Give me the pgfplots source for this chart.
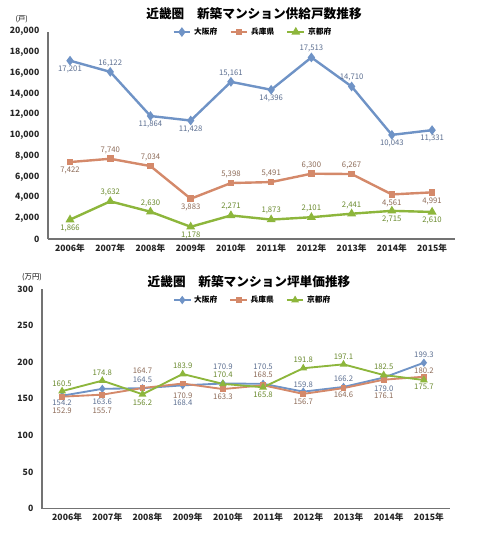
\documentclass[border=0pt]{standalone}
\usepackage{fontspec}
\setmainfont{Noto Sans CJK JP}
\usepackage{pgfplots}
\usepackage{pgfplotstable}
\pgfplotsset{compat=1.18}

\definecolor{osaka}{HTML}{6F93C6}
\definecolor{hyogo}{HTML}{D4896A}
\definecolor{kyoto}{HTML}{8DB63C}
\definecolor{osakalab}{HTML}{5B6E90}
\definecolor{hyogolab}{HTML}{8C6A57}
\definecolor{kyotolab}{HTML}{6A8A2E}

\pgfplotstableread{
x y lab dy
0 17201 17,201 -6.5
1 16122 16,122 6.5
2 11864 11,864 -6.5
3 11428 11,428 -6.5
4 15161 15,161 6.5
5 14396 14,396 -6.5
6 17513 17,513 6.5
7 14710 14,710 6.5
8 10043 10,043 -6.5
9 10500 11,331 -6.5
}\osakaA
\pgfplotstableread{
x y lab dy
0 7422 7,422 -6.5
1 7740 7,740 6.5
2 7034 7,034 6.5
3 3883 3,883 -6.5
4 5398 5,398 6.5
5 5491 5,491 6.5
6 6300 6,300 6.5
7 6267 6,267 6.5
8 4300 4,561 -6.5
9 4500 4,991 -6.5
}\hyogoA
\pgfplotstableread{
x y lab dy
0 1866 1,866 -6.5
1 3632 3,632 6.5
2 2630 2,630 6.5
3 1178 1,178 -6.5
4 2271 2,271 6.5
5 1873 1,873 6.5
6 2101 2,101 6.5
7 2441 2,441 6.5
8 2715 2,715 -6.5
9 2610 2,610 -6.5
}\kyotoA

\pgfplotstableread{
x y lab dy
0 154.2 154.2 -5.25
1 163.6 163.6 -9.75
2 164.5 164.5 6
3 168.4 168.4 -12.75
4 170.9 170.9 12.75
5 170.5 170.5 12.75
6 159.8 159.8 5.25
7 166.2 166.2 6
8 179.0 179.0 -8.25
9 199.3 199.3 6
}\osakaB
\pgfplotstableread{
x y lab dy
0 152.9 152.9 -10.5
1 155.7 155.7 -12
2 164.7 164.7 12.75
3 170.9 170.9 -9
4 163.3 163.3 -6
5 168.5 168.5 8.25
6 156.7 156.7 -6
7 164.6 164.6 -5.25
8 176.1 176.1 -12
9 180.2 180.2 4.5
}\hyogoB
\pgfplotstableread{
x y lab dy
0 160.5 160.5 5.25
1 174.8 174.8 6
2 156.2 156.2 -6
3 183.9 183.9 6
4 170.4 170.4 6.75
5 165.8 165.8 -5.25
6 191.8 191.8 6
7 197.1 197.1 6
8 182.5 182.5 6
9 175.7 175.7 -5.25
}\kyotoB

\pgfplotsset{mychart/.style={
  scale only axis,
  axis x line*=bottom, axis y line*=left,
  axis line style={draw=black!55, line width=1.2pt, -},
  tick style={draw=none},
  xtick={0,...,9},
  xticklabels={2006年,2007年,2008年,2009年,2010年,2011年,2012年,2013年,2014年,2015年},
  ticklabel style={font=\bfseries\fontsize{6.5}{7}\selectfont, text=black!85},
  /pgf/number format/assume math mode=true,
  /pgf/number format/1000 sep={,},
  scaled y ticks=false,
  yticklabel style={xshift=-3pt},
  clip=false,
  legend columns=3,
  legend cell align=left,
  legend style={draw=none, fill=none, font=\bfseries\fontsize{5.8}{6}\selectfont,
    /tikz/every even column/.append style={column sep=7pt}},
  legend image code/.code={\draw[mark repeat=2,mark phase=2,##1] plot coordinates {(0cm,0cm) (0.22cm,0cm) (0.44cm,0cm)};},
},
lbl/.style={
  nodes near coords,
  point meta=explicit symbolic,
  visualization depends on={\thisrow{dy} \as \dy},
  every node near coord/.append style={anchor=center, yshift=\dy pt, font=\fontsize{5.8}{6}\selectfont, inner sep=0pt, text=#1},
}}

\begin{document}
\begin{tikzpicture}
\path[use as bounding box] (0pt,0pt) rectangle (360pt,-400.5pt);

\node[font=\bfseries\fontsize{9.5}{10}\selectfont] at (190.5pt,-10.5pt) {近畿圏　新築マンション供給戸数推移};
\node[font=\fontsize{5.5}{6}\selectfont] at (16.3pt,-14.25pt) {(戸)};

\begin{axis}[mychart,
  at={(36pt,-179.25pt)}, anchor=south west,
  width=305.25pt, height=155.5pt,
  xmin=-0.547, xmax=9.57,
  ymin=0, ymax=20000, ytick={0,2000,...,20000},
  legend style={at={(0.504,0.998)}, anchor=center},
]
\addplot[color=osaka, line width=1.8pt, mark=diamond*, mark size=2.2pt, mark options={solid},
  lbl=osakalab] table[x=x,y=y,meta=lab] {\osakaA};
\addlegendentry{大阪府}
\addplot[color=hyogo, line width=1.8pt, mark=square*, mark size=1.6pt, mark options={solid},
  lbl=hyogolab] table[x=x,y=y,meta=lab] {\hyogoA};
\addlegendentry{兵庫県}
\addplot[color=kyoto, line width=1.8pt, mark=triangle*, mark size=2.1pt, mark options={solid},
  lbl=kyotolab] table[x=x,y=y,meta=lab] {\kyotoA};
\addlegendentry{京都府}
\end{axis}

\node[font=\bfseries\fontsize{9.5}{10}\selectfont] at (186.75pt,-211.3pt) {近畿圏　新築マンション坪単価推移};
\node[font=\fontsize{5.5}{6}\selectfont] at (24pt,-207.75pt) {(万円)};

\begin{axis}[mychart,
  at={(31.5pt,-381.4pt)}, anchor=south west,
  width=306pt, height=164.6pt,
  xmin=-0.5, xmax=9.65,
  ymin=0, ymax=300, ytick={0,50,...,300},
  xticklabel style={xshift=3.75pt},
  legend style={at={(0.517,0.95)}, anchor=center},
]
\addplot[color=osaka, line width=1.4pt, mark=diamond*, mark size=2pt, mark options={solid},
  lbl=osakalab] table[x=x,y=y,meta=lab] {\osakaB};
\addlegendentry{大阪府}
\addplot[color=hyogo, line width=1.4pt, mark=square*, mark size=1.5pt, mark options={solid},
  lbl=hyogolab] table[x=x,y=y,meta=lab] {\hyogoB};
\addlegendentry{兵庫県}
\addplot[color=kyoto, line width=1.4pt, mark=triangle*, mark size=2pt, mark options={solid},
  lbl=kyotolab] table[x=x,y=y,meta=lab] {\kyotoB};
\addlegendentry{京都府}
\end{axis}
\end{tikzpicture}
\end{document}
